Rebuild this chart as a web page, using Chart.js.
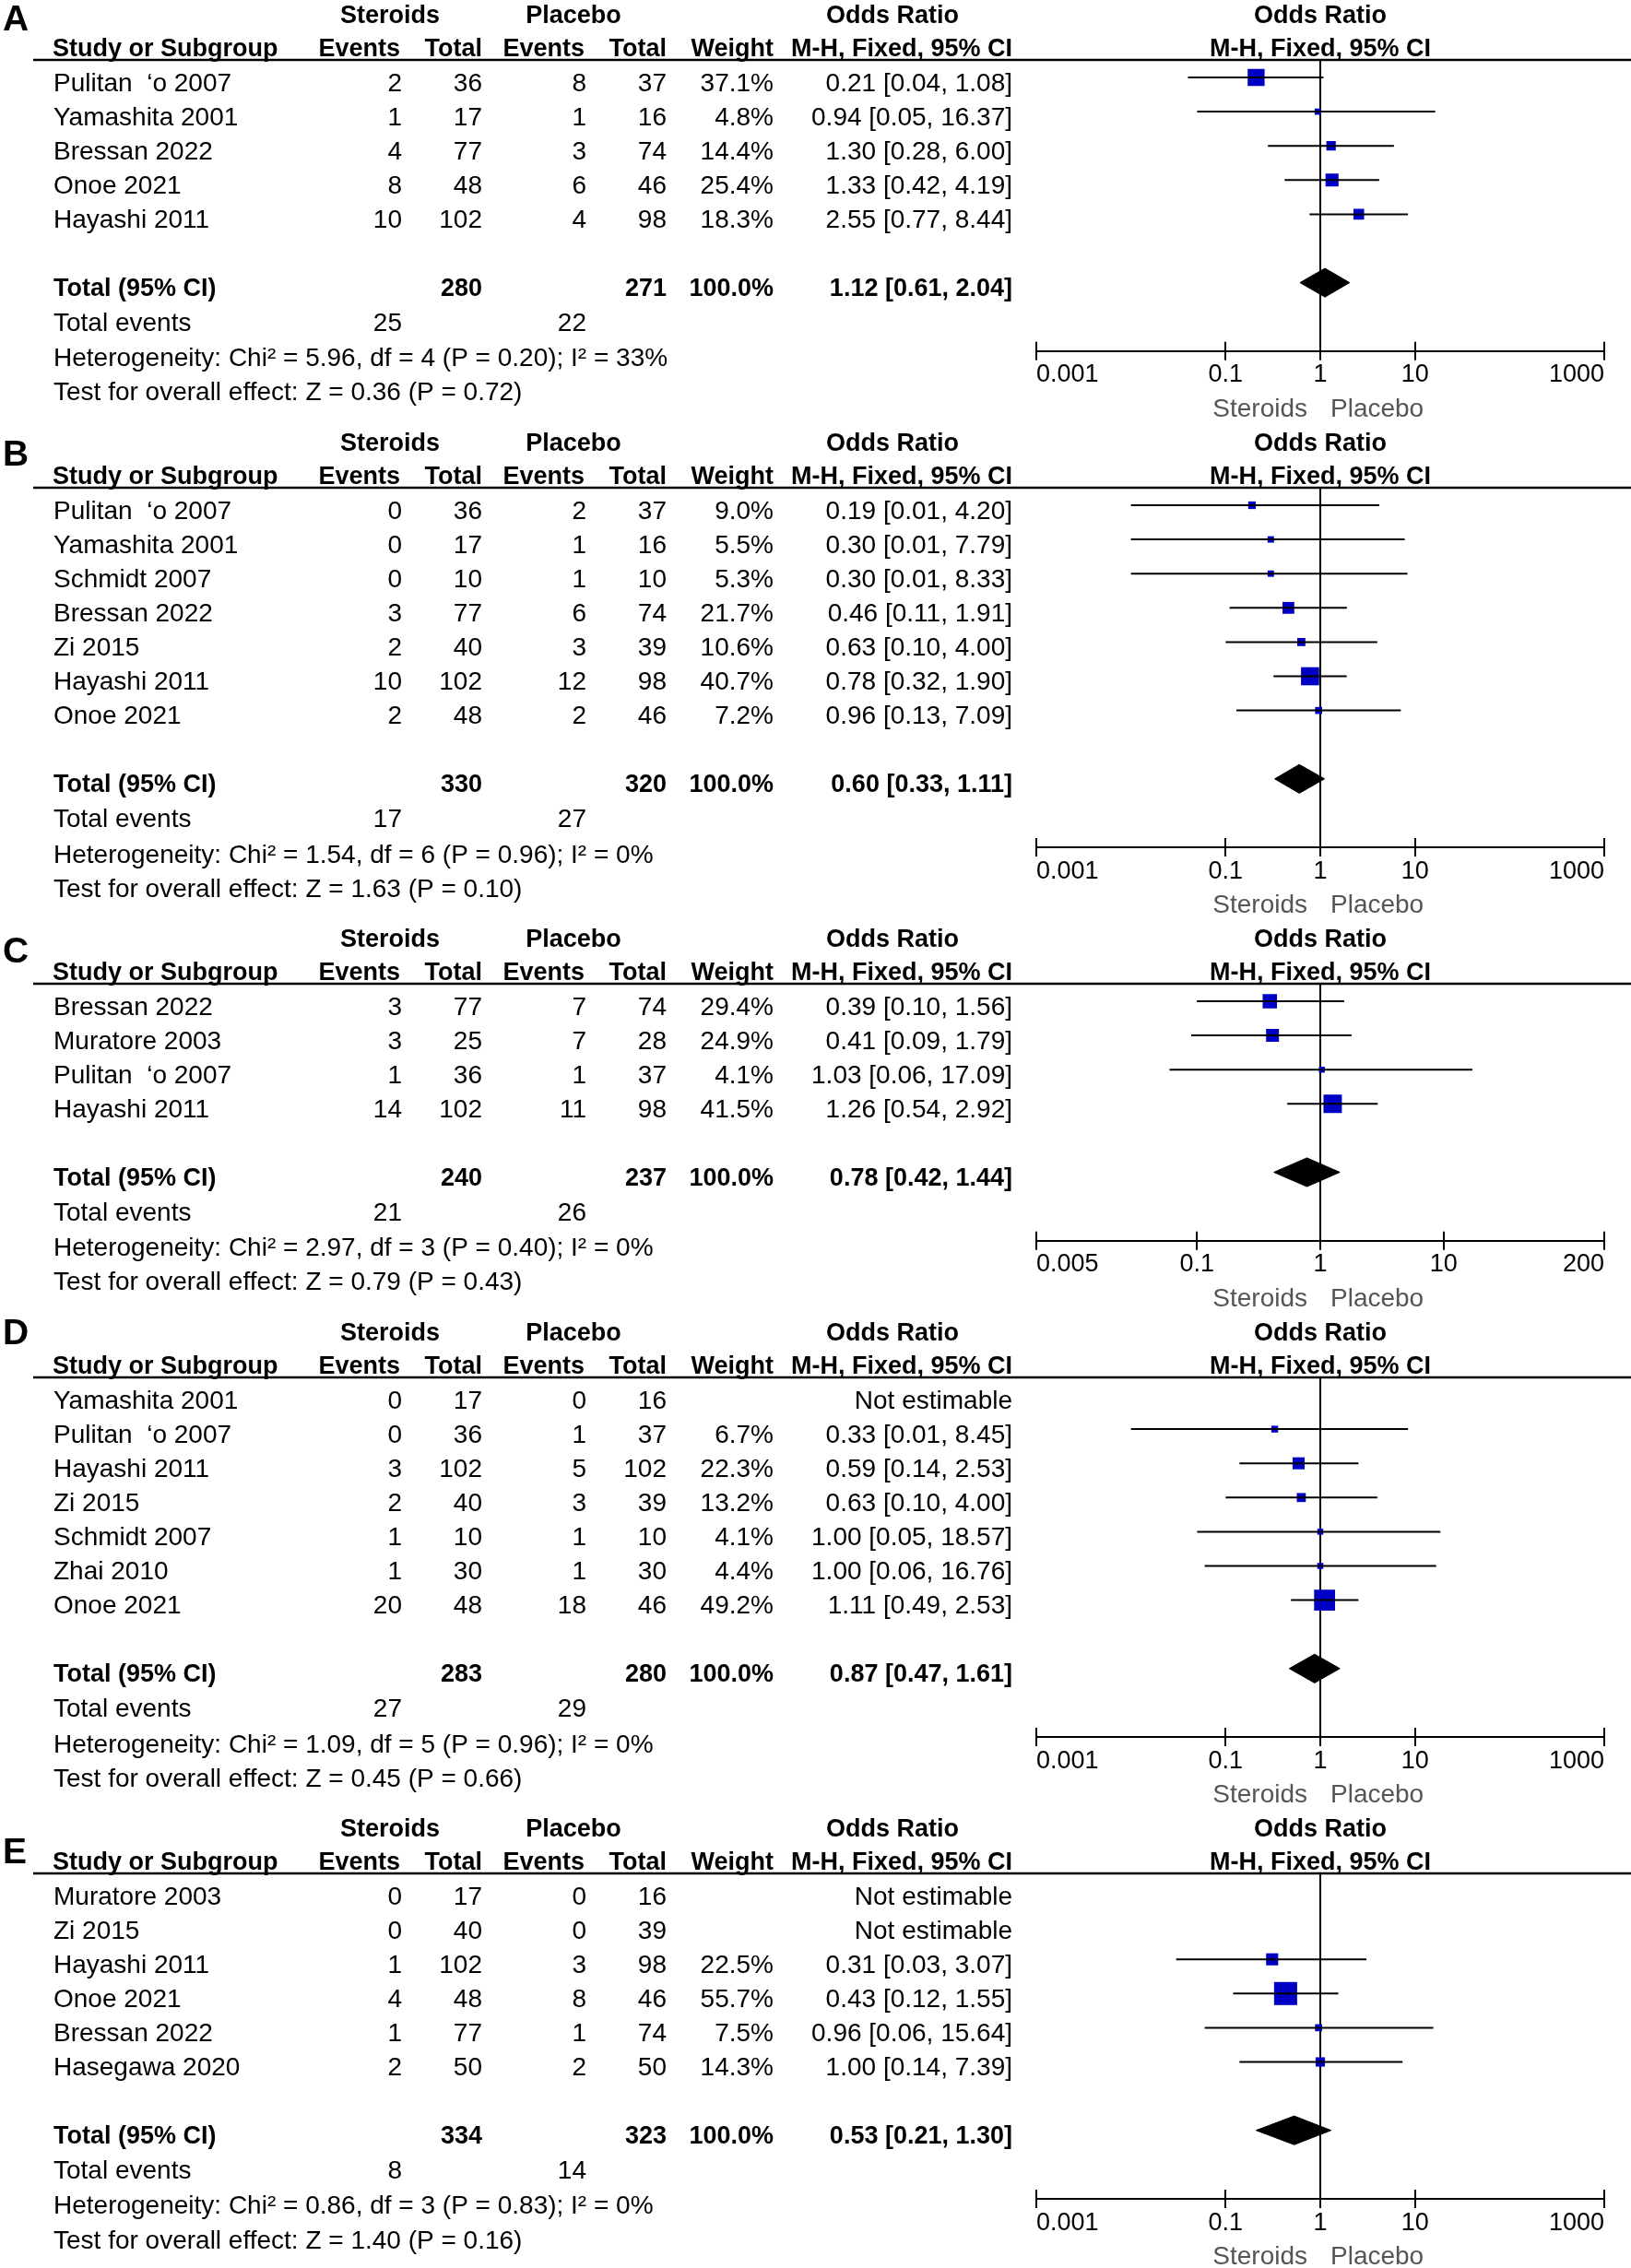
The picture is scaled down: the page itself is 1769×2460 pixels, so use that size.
<!DOCTYPE html>
<html>
<head>
<meta charset="utf-8">
<script src="https://cdn.jsdelivr.net/npm/chart.js@4.4.0/dist/chart.umd.min.js"></script>
<style>
  body { margin: 0; background: #fff; }
  #page { position: relative; width: 1769px; height: 2460px; overflow: hidden; background: #fff; }
  #page canvas { position: absolute; left: 0; }
</style>
</head>
<body>
<div id="page"></div>
<script>
// ---- data ----
const tickValsWide = [0.001, 0.1, 1, 10, 1000];
const tickTextWide = ["0.001", "0.1", "1", "10", "1000"];
const tickValsC = [0.005, 0.1, 1, 10, 200];
const tickTextC = ["0.005", "0.1", "1", "10", "200"];

// A
const studiesA = ["Pulitan  \u2018o 2007", "Yamashita 2001", "Bressan 2022", "Onoe 2021", "Hayashi 2011"];
const evSterA = [2, 1, 4, 8, 10];
const totSterA = [36, 17, 77, 48, 102];
const evPlaA = [8, 1, 3, 6, 4];
const totPlaA = [37, 16, 74, 46, 98];
const weightA = [37.1, 4.8, 14.4, 25.4, 18.3];
const orA = [0.21, 0.94, 1.30, 1.33, 2.55];
const loA = [0.04, 0.05, 0.28, 0.42, 0.77];
const hiA = [1.08, 16.37, 6.00, 4.19, 8.44];
const sumTotA = [280, 271];
const sumEvA = [25, 22];
const pooledA = [1.12, 0.61, 2.04];
const hetA = "Heterogeneity: Chi\u00b2 = 5.96, df = 4 (P = 0.20); I\u00b2 = 33%";
const testA = "Test for overall effect: Z = 0.36 (P = 0.72)";

// B
const studiesB = ["Pulitan  \u2018o 2007", "Yamashita 2001", "Schmidt 2007", "Bressan 2022", "Zi 2015", "Hayashi 2011", "Onoe 2021"];
const evSterB = [0, 0, 0, 3, 2, 10, 2];
const totSterB = [36, 17, 10, 77, 40, 102, 48];
const evPlaB = [2, 1, 1, 6, 3, 12, 2];
const totPlaB = [37, 16, 10, 74, 39, 98, 46];
const weightB = [9.0, 5.5, 5.3, 21.7, 10.6, 40.7, 7.2];
const orB = [0.19, 0.30, 0.30, 0.46, 0.63, 0.78, 0.96];
const loB = [0.01, 0.01, 0.01, 0.11, 0.10, 0.32, 0.13];
const hiB = [4.20, 7.79, 8.33, 1.91, 4.00, 1.90, 7.09];
const sumTotB = [330, 320];
const sumEvB = [17, 27];
const pooledB = [0.60, 0.33, 1.11];
const hetB = "Heterogeneity: Chi\u00b2 = 1.54, df = 6 (P = 0.96); I\u00b2 = 0%";
const testB = "Test for overall effect: Z = 1.63 (P = 0.10)";

// C
const studiesC = ["Bressan 2022", "Muratore 2003", "Pulitan  \u2018o 2007", "Hayashi 2011"];
const evSterC = [3, 3, 1, 14];
const totSterC = [77, 25, 36, 102];
const evPlaC = [7, 7, 1, 11];
const totPlaC = [74, 28, 37, 98];
const weightC = [29.4, 24.9, 4.1, 41.5];
const orC = [0.39, 0.41, 1.03, 1.26];
const loC = [0.10, 0.09, 0.06, 0.54];
const hiC = [1.56, 1.79, 17.09, 2.92];
const sumTotC = [240, 237];
const sumEvC = [21, 26];
const pooledC = [0.78, 0.42, 1.44];
const hetC = "Heterogeneity: Chi\u00b2 = 2.97, df = 3 (P = 0.40); I\u00b2 = 0%";
const testC = "Test for overall effect: Z = 0.79 (P = 0.43)";

// D
const studiesD = ["Yamashita 2001", "Pulitan  \u2018o 2007", "Hayashi 2011", "Zi 2015", "Schmidt 2007", "Zhai 2010", "Onoe 2021"];
const evSterD = [0, 0, 3, 2, 1, 1, 20];
const totSterD = [17, 36, 102, 40, 10, 30, 48];
const evPlaD = [0, 1, 5, 3, 1, 1, 18];
const totPlaD = [16, 37, 102, 39, 10, 30, 46];
const weightD = [null, 6.7, 22.3, 13.2, 4.1, 4.4, 49.2];
const orD = [null, 0.33, 0.59, 0.63, 1.00, 1.00, 1.11];
const loD = [null, 0.01, 0.14, 0.10, 0.05, 0.06, 0.49];
const hiD = [null, 8.45, 2.53, 4.00, 18.57, 16.76, 2.53];
const sumTotD = [283, 280];
const sumEvD = [27, 29];
const pooledD = [0.87, 0.47, 1.61];
const hetD = "Heterogeneity: Chi\u00b2 = 1.09, df = 5 (P = 0.96); I\u00b2 = 0%";
const testD = "Test for overall effect: Z = 0.45 (P = 0.66)";

// E
const studiesE = ["Muratore 2003", "Zi 2015", "Hayashi 2011", "Onoe 2021", "Bressan 2022", "Hasegawa 2020"];
const evSterE = [0, 0, 1, 4, 1, 2];
const totSterE = [17, 40, 102, 48, 77, 50];
const evPlaE = [0, 0, 3, 8, 1, 2];
const totPlaE = [16, 39, 98, 46, 74, 50];
const weightE = [null, null, 22.5, 55.7, 7.5, 14.3];
const orE = [null, null, 0.31, 0.43, 0.96, 1.00];
const loE = [null, null, 0.03, 0.12, 0.06, 0.14];
const hiE = [null, null, 3.07, 1.55, 15.64, 7.39];
const sumTotE = [334, 323];
const sumEvE = [8, 14];
const pooledE = [0.53, 0.21, 1.30];
const hetE = "Heterogeneity: Chi\u00b2 = 0.86, df = 3 (P = 0.83); I\u00b2 = 0%";
const testE = "Test for overall effect: Z = 1.40 (P = 0.16)";

// ---- layout ----
const FONT = '"Liberation Sans", Arial, sans-serif';
const ROW = 37.1, ROW0 = 84, LINE_Y = 65;
const TXT_DY = 14.5;   // text baseline below the mark centre of a row
const BLUE = "#0000c4";

function ciText(m, l, h) {
  return m.toFixed(2) + " [" + l.toFixed(2) + ", " + h.toFixed(2) + "]";
}

function txt(ctx, s, x, y, align, bold, size, color) {
  ctx.font = (bold ? "bold " : "") + size + "px " + FONT;
  ctx.textAlign = align;
  ctx.fillStyle = color || "#000";
  ctx.fillText(s, x, y);
}

function makePanel(p) {
  const n = p.studies.length;
  const axisY = ROW0 + (n + 3) * ROW;
  const H = p.height;

  const cv = document.createElement("canvas");
  cv.width = 1769;
  cv.height = H;
  cv.style.top = p.top + "px";
  document.getElementById("page").appendChild(cv);

  const datasets = [];
  // CI whiskers
  p.or.forEach((v, i) => {
    if (v == null) return;
    datasets.push({
      data: [{ x: p.lo[i], y: i }, { x: p.hi[i], y: i }],
      showLine: true, borderColor: "#000", borderWidth: 2, pointRadius: 0
    });
  });
  // weighted squares
  const pts = [], radii = [];
  p.or.forEach((v, i) => {
    if (v == null) return;
    pts.push({ x: v, y: i });
    radii.push((5 + 0.36 * p.weight[i]) / Math.SQRT2);
  });
  datasets.push({
    data: pts, pointStyle: "rect", pointRadius: radii,
    backgroundColor: BLUE, borderColor: BLUE, borderWidth: 0
  });
  // pooled diamond
  const t = n + 1;
  const [pm, pl, ph] = p.pooled;
  datasets.push({
    data: [{ x: pl, y: t }, { x: pm, y: t - 0.42 }, { x: ph, y: t }, { x: pm, y: t + 0.42 }, { x: pl, y: t }],
    showLine: true, fill: "shape", backgroundColor: "#000", borderColor: "#000",
    borderWidth: 1, pointRadius: 0, tension: 0
  });

  const tablePlugin = {
    id: "table" + p.letter,
    afterDraw(chart) {
      const ctx = chart.ctx, xs = chart.scales.x, ys = chart.scales.y;
      const area = chart.chartArea;
      const ry = i => ys.getPixelForValue(i) + TXT_DY;
      const x1 = xs.getPixelForValue(1);
      ctx.save();
      ctx.textBaseline = "alphabetic";

      txt(ctx, p.letter, 3, p.letterY + 14, "left", true, 39);

      // group headers
      txt(ctx, "Steroids", 423, 25, "center", true, 27);
      txt(ctx, "Placebo", 622, 25, "center", true, 27);
      txt(ctx, "Odds Ratio", 968, 25, "center", true, 27);
      txt(ctx, "Odds Ratio", x1, 25, "center", true, 27);
      // column headers
      txt(ctx, "Study or Subgroup", 57, 61, "left", true, 27);
      txt(ctx, "Events", 434, 61, "right", true, 27);
      txt(ctx, "Total", 523, 61, "right", true, 27);
      txt(ctx, "Events", 634, 61, "right", true, 27);
      txt(ctx, "Total", 723, 61, "right", true, 27);
      txt(ctx, "Weight", 839, 61, "right", true, 27);
      txt(ctx, "M-H, Fixed, 95% CI", 1098, 61, "right", true, 27);
      txt(ctx, "M-H, Fixed, 95% CI", x1, 61, "center", true, 27);

      ctx.strokeStyle = "#000";
      ctx.lineWidth = 2.5;
      ctx.beginPath();
      ctx.moveTo(36, area.top);
      ctx.lineTo(1769, area.top);
      ctx.stroke();

      // study rows
      p.studies.forEach((s, i) => {
        const y = ry(i);
        txt(ctx, s, 58, y, "left", false, 28);
        txt(ctx, String(p.evS[i]), 436, y, "right", false, 28);
        txt(ctx, String(p.totS[i]), 523, y, "right", false, 28);
        txt(ctx, String(p.evP[i]), 636, y, "right", false, 28);
        txt(ctx, String(p.totP[i]), 723, y, "right", false, 28);
        if (p.or[i] == null) {
          txt(ctx, "Not estimable", 1098, y, "right", false, 28);
        } else {
          txt(ctx, p.weight[i].toFixed(1) + "%", 839, y, "right", false, 28);
          txt(ctx, ciText(p.or[i], p.lo[i], p.hi[i]), 1098, y, "right", false, 28);
        }
      });

      // totals
      const yt = ry(t);
      txt(ctx, "Total (95% CI)", 58, yt, "left", true, 27);
      txt(ctx, String(p.sumTot[0]), 523, yt, "right", true, 27);
      txt(ctx, String(p.sumTot[1]), 723, yt, "right", true, 27);
      txt(ctx, "100.0%", 839, yt, "right", true, 27);
      txt(ctx, ciText(pm, pl, ph), 1098, yt, "right", true, 27);

      const ye = ry(n + 2) + 1;
      txt(ctx, "Total events", 58, ye, "left", false, 28);
      txt(ctx, String(p.sumEv[0]), 436, ye, "right", false, 28);
      txt(ctx, String(p.sumEv[1]), 636, ye, "right", false, 28);
      txt(ctx, p.het, 58, ry(n + 3) + 2, "left", false, 28);
      txt(ctx, p.test, 58, ry(n + 4) + 2, "left", false, 28);

      // ticks cross the axis line: add the upper half
      ctx.lineWidth = 2;
      ctx.beginPath();
      xs.ticks.forEach(tk => {
        const x = Math.round(xs.getPixelForValue(tk.value));
        ctx.moveTo(x, area.bottom);
        ctx.lineTo(x, area.bottom - 10);
      });
      ctx.stroke();

      txt(ctx, "Steroids", x1 - 14, area.bottom + 71, "right", false, 28, "#555");
      txt(ctx, "Placebo", x1 + 11, area.bottom + 71, "left", false, 28, "#555");
      ctx.restore();
    }
  };

  new Chart(cv, {
    type: "scatter",
    data: { datasets: datasets },
    options: {
      responsive: false,
      animation: false,
      devicePixelRatio: 1,
      events: [],
      layout: { padding: { left: 1124, right: 29, top: LINE_Y, bottom: 0 } },
      plugins: { legend: { display: false }, tooltip: { enabled: false } },
      scales: {
        x: {
          type: "logarithmic",
          min: p.ticks[0],
          max: p.ticks[p.ticks.length - 1],
          afterBuildTicks: s => { s.ticks = p.ticks.map(v => ({ value: v })); },
          afterFit: s => { s.height = H - axisY; },
          ticks: {
            callback: (v, i) => p.tickText[i],
            align: "inner", padding: 0, color: "#000",
            autoSkip: false, maxRotation: 0,
            font: { family: FONT, size: 27 }
          },
          grid: {
            drawOnChartArea: true,
            color: c => (c.tick && c.tick.value === 1) ? "#000" : "rgba(0,0,0,0)",
            lineWidth: 2,
            tickLength: 10, tickColor: "#000", tickWidth: 2
          },
          border: { display: true, color: "#000", width: 2 }
        },
        y: {
          type: "linear", display: false, reverse: true,
          min: -(ROW0 - LINE_Y) / ROW,
          max: n + 3
        }
      }
    },
    plugins: [tablePlugin]
  });
}

makePanel({ letter: "A", top: 0, height: 464, letterY: 19,
  studies: studiesA, evS: evSterA, totS: totSterA, evP: evPlaA, totP: totPlaA,
  weight: weightA, or: orA, lo: loA, hi: hiA, sumTot: sumTotA, sumEv: sumEvA,
  pooled: pooledA, het: hetA, test: testA, ticks: tickValsWide, tickText: tickTextWide });
makePanel({ letter: "B", top: 464, height: 538, letterY: 27,
  studies: studiesB, evS: evSterB, totS: totSterB, evP: evPlaB, totP: totPlaB,
  weight: weightB, or: orB, lo: loB, hi: hiB, sumTot: sumTotB, sumEv: sumEvB,
  pooled: pooledB, het: hetB, test: testB, ticks: tickValsWide, tickText: tickTextWide });
makePanel({ letter: "C", top: 1002, height: 427, letterY: 28,
  studies: studiesC, evS: evSterC, totS: totSterC, evP: evPlaC, totP: totPlaC,
  weight: weightC, or: orC, lo: loC, hi: hiC, sumTot: sumTotC, sumEv: sumEvC,
  pooled: pooledC, het: hetC, test: testC, ticks: tickValsC, tickText: tickTextC });
makePanel({ letter: "D", top: 1429, height: 538, letterY: 15,
  studies: studiesD, evS: evSterD, totS: totSterD, evP: evPlaD, totP: totPlaD,
  weight: weightD, or: orD, lo: loD, hi: hiD, sumTot: sumTotD, sumEv: sumEvD,
  pooled: pooledD, het: hetD, test: testD, ticks: tickValsWide, tickText: tickTextWide });
makePanel({ letter: "E", top: 1967, height: 493, letterY: 40,
  studies: studiesE, evS: evSterE, totS: totSterE, evP: evPlaE, totP: totPlaE,
  weight: weightE, or: orE, lo: loE, hi: hiE, sumTot: sumTotE, sumEv: sumEvE,
  pooled: pooledE, het: hetE, test: testE, ticks: tickValsWide, tickText: tickTextWide });
</script>
</body>
</html>
